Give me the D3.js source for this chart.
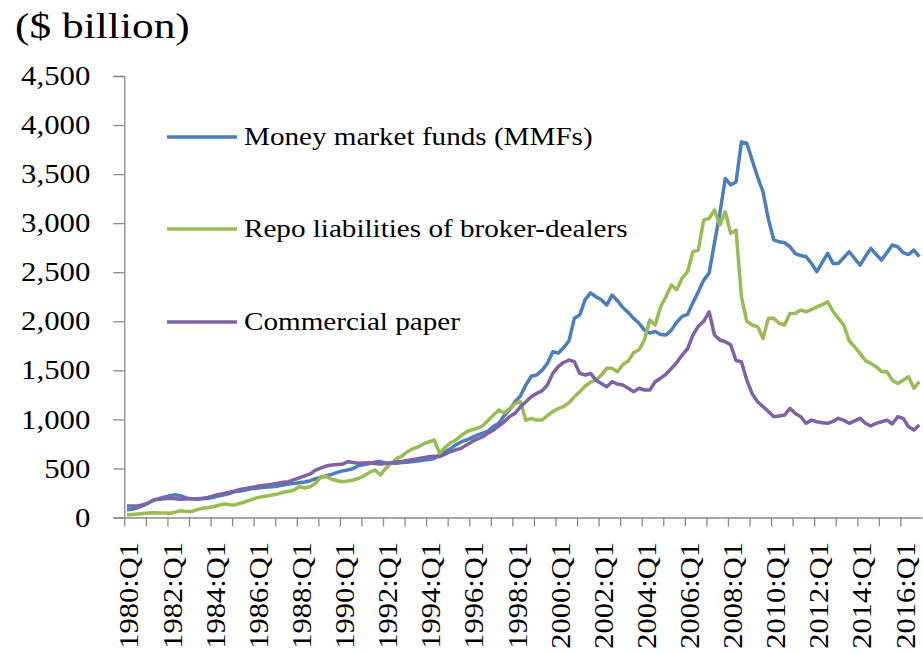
<!DOCTYPE html>
<html>
<head>
<meta charset="utf-8">
<script src="https://cdn.jsdelivr.net/npm/d3@7"></script>
<style>
  body { margin: 0; background: #fff; }
  text { font-family: "Liberation Serif", "Times New Roman", serif; fill: #000; }
</style>
</head>
<body>
<div id="chart"></div>
<script>
var svgWidth = 923;
var svgHeight = 653;

// quarters 1980:Q1 .. 2016:Q4
var quarters = [];
for (var yr = 1980; yr <= 2016; yr++) {
  for (var q = 1; q <= 4; q++) quarters.push(yr + ":Q" + q);
}

var tickLabels = ["1980:Q1", "1982:Q1", "1984:Q1", "1986:Q1", "1988:Q1", "1990:Q1",
  "1992:Q1", "1994:Q1", "1996:Q1", "1998:Q1", "2000:Q1", "2002:Q1", "2004:Q1",
  "2006:Q1", "2008:Q1", "2010:Q1", "2012:Q1", "2014:Q1", "2016:Q1"];

var yTicks = [0, 500, 1000, 1500, 2000, 2500, 3000, 3500, 4000, 4500];

var mmf = [80, 85, 100, 120, 150, 180, 195, 210, 222, 232, 220, 200, 190, 185, 190, 195,
  205, 220, 232, 245, 263, 270, 280, 292, 298, 305, 310, 314, 322, 332, 340, 348,
  355, 362, 375, 395, 410, 425, 440, 460, 475, 485, 500, 530, 540, 550, 565, 570,
  555, 552, 552, 560, 562, 570, 575, 585, 590, 600, 640, 670, 700, 740, 770, 790,
  815, 840, 860, 880, 930, 960, 1040, 1100, 1180, 1240, 1350, 1440, 1452, 1500, 1571, 1690,
  1675, 1730, 1800, 2030, 2063, 2220, 2290, 2250, 2220, 2165, 2267, 2210, 2140, 2090, 2030, 1980,
  1910, 1880, 1895, 1865, 1860, 1910, 1990, 2050, 2070, 2190, 2300, 2420, 2490, 2800, 3100, 3456,
  3390, 3420, 3829, 3815, 3640, 3470, 3320, 3040, 2830, 2810, 2800, 2760, 2690, 2670, 2657, 2590,
  2505, 2600, 2692, 2590, 2590, 2650, 2709, 2640, 2573, 2660, 2743, 2680, 2624, 2700, 2777, 2760,
  2700, 2680, 2726, 2658];

var repo = [25, 30, 36, 40, 45, 49, 47, 45, 43, 55, 69, 62, 60, 80, 94, 100,
  110, 125, 138, 130, 127, 145, 161, 180, 200, 212, 220, 229, 240, 258, 265, 280,
  314, 300, 314, 350, 416, 416, 390, 375, 365, 372, 382, 400, 425, 460, 484, 433,
  500, 550, 600, 625, 670, 700, 720, 750, 770, 790, 654, 715, 760, 790, 835, 874,
  895, 910, 935, 990, 1044, 1095, 1065, 1110, 1160, 1180, 990, 1011, 993, 993, 1040, 1080,
  1110, 1130, 1170, 1230, 1280, 1340, 1380, 1400, 1450, 1520, 1520, 1486, 1560, 1595, 1680, 1710,
  1809, 2013, 1962, 2148, 2250, 2370, 2320, 2440, 2505, 2709, 2726, 3032, 3049, 3134, 2981, 3116,
  2896, 2930, 2250, 2000, 1962, 1944, 1826, 2030, 2030, 1980, 1962, 2080, 2081, 2114, 2097, 2120,
  2148, 2170, 2199, 2100, 2030, 1960, 1800, 1740, 1673, 1600, 1571, 1537, 1486, 1486, 1400, 1367,
  1400, 1435, 1317, 1384];

var cp = [117, 117, 117, 130, 150, 178, 185, 192, 196, 190, 185, 188, 190, 192, 196, 205,
  220, 235, 246, 258, 270, 285, 297, 305, 315, 325, 331, 340, 350, 360, 365, 385,
  405, 425, 445, 484, 505, 525, 535, 540, 545, 569, 560, 552, 555, 558, 550, 545,
  550, 558, 565, 570, 580, 590, 600, 610, 620, 625, 620, 645, 670, 690, 705, 740,
  773, 800, 823, 860, 892, 935, 976, 1030, 1062, 1129, 1180, 1231, 1265, 1290, 1350, 1469,
  1537, 1580, 1605, 1588, 1469, 1452, 1469, 1400, 1367, 1333, 1384, 1360, 1350, 1317, 1282, 1317,
  1299, 1299, 1384, 1420, 1460, 1520, 1580, 1656, 1720, 1860, 1950, 2000, 2097, 1860, 1809, 1791,
  1760, 1600, 1588, 1400, 1260, 1180, 1130, 1080, 1027, 1035, 1044, 1113, 1060, 1027, 960, 993,
  976, 965, 960, 980, 1011, 990, 960, 985, 1011, 960, 932, 960, 976, 993, 953, 1027,
  1011, 925, 892, 943];

var seriesNames = ["Money market funds (MMFs)", "Repo liabilities of broker-dealers", "Commercial paper"];
var seriesColors = ["#4a7ebf", "#98bc52", "#7f61a6"];
var seriesData = [mmf, repo, cp];

var svg = d3.select("#chart").append("svg")
  .attr("width", svgWidth)
  .attr("height", svgHeight);

// plot area
var x0 = 124.3, x1 = 922, yTop = 76, yBottom = 517.5;

var xScale = d3.scaleLinear()
  .domain([0, quarters.length])
  .range([x0, x1]);

var yScale = d3.scaleLinear()
  .domain([0, 4500])
  .range([yBottom, yTop]);

var axisColor = "#8a8a8a";

// widen Liberation Serif a bit so it takes the room of the original book face
function stretch(sel, k) {
  sel.each(function() {
    var w = this.getComputedTextLength();
    d3.select(this)
      .attr("textLength", w * k)
      .attr("lengthAdjust", "spacingAndGlyphs");
  });
}

// y axis
var leftAxis = d3.axisLeft(yScale)
  .tickValues(yTicks)
  .tickSize(11)
  .tickPadding(23)
  .tickFormat(d3.format(","));

var yAxis = svg.append("g")
  .attr("transform", `translate(${x0}, 0)`)
  .call(leftAxis);
yAxis.select(".domain").attr("stroke", axisColor).attr("stroke-width", 1.3);
yAxis.selectAll(".tick line").attr("stroke", axisColor).attr("stroke-width", 1.3);
yAxis.selectAll(".tick text")
  .attr("font-family", "Liberation Serif, serif")
  .attr("font-size", 27)
  .attr("fill", "#000")
  .call(stretch, 1.14);

// x axis: tick every year (4 quarters), labels every 2 years
var yearTicks = d3.range(0, quarters.length, 4);
var bottomAxis = d3.axisBottom(xScale)
  .tickValues(yearTicks)
  .tickSize(9)
  .tickSizeOuter(0)
  .tickFormat("");

var xAxis = svg.append("g")
  .attr("transform", `translate(0, ${yBottom})`)
  .call(bottomAxis);
xAxis.select(".domain").attr("stroke", axisColor).attr("stroke-width", 1.3);
xAxis.selectAll(".tick line").attr("stroke", axisColor).attr("stroke-width", 1.3);

svg.append("g").selectAll("text")
  .data(tickLabels)
  .enter()
  .append("text")
  .attr("transform", d => {
    var i = quarters.indexOf(d);
    return `translate(${xScale(i + 0.5) + 2}, 542) rotate(-90)`;
  })
  .attr("text-anchor", "end")
  .attr("dy", "0.35em")
  .attr("font-size", 27)
  .text(d => d)
  .call(stretch, 1.13);

// lines
var line = d3.line()
  .x((d, i) => xScale(i + 0.5))
  .y(d => yScale(d));

svg.append("g").selectAll("path")
  .data(seriesData)
  .enter()
  .append("path")
  .attr("d", d => line(d))
  .attr("fill", "none")
  .attr("stroke", (d, i) => seriesColors[i])
  .attr("stroke-width", 3.5)
  .attr("stroke-linejoin", "round");

// legend
var legendY = [137, 229, 322];
var legend = svg.append("g");
seriesNames.forEach(function(name, i) {
  legend.append("line")
    .attr("x1", 167).attr("x2", 237)
    .attr("y1", legendY[i]).attr("y2", legendY[i])
    .attr("stroke", seriesColors[i])
    .attr("stroke-width", 3.5);
  legend.append("text")
    .attr("x", 244)
    .attr("y", legendY[i] + 8)
    .attr("font-size", 26)
    .text(name)
    .call(stretch, 1.12);
});

// unit label
svg.append("text")
  .attr("x", 15)
  .attr("y", 38)
  .attr("font-size", 35)
  .text("($ billion)")
  .call(stretch, 1.24);
</script>
</body>
</html>
